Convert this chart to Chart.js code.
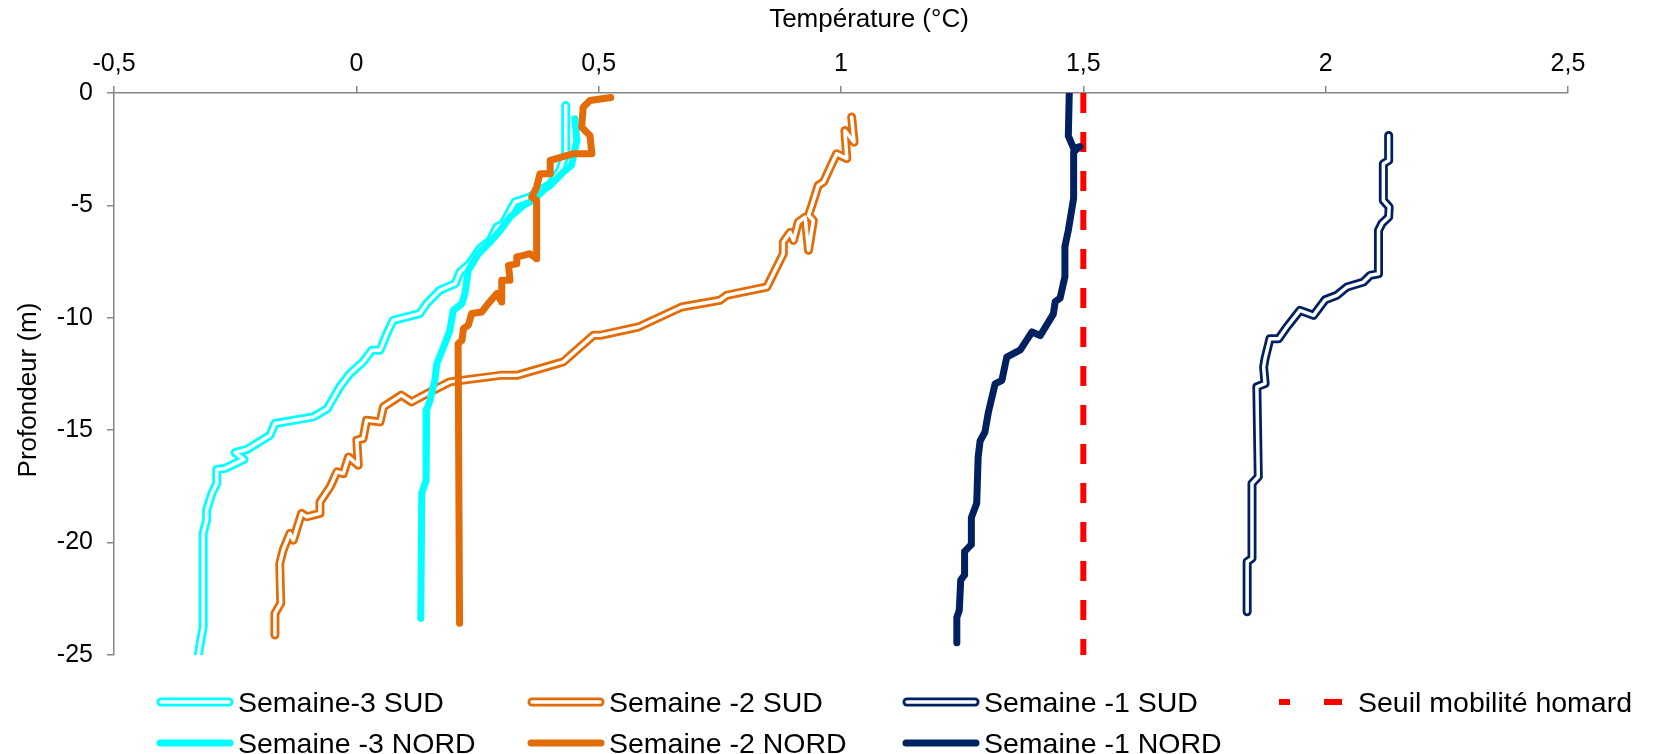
<!DOCTYPE html>
<html lang="fr">
<head>
<meta charset="utf-8">
<title>Profils de température</title>
<script src="https://cdn.jsdelivr.net/npm/chart.js@4.4.1/dist/chart.umd.min.js"></script>
<style>
  body { margin: 0; background: #fff; }
  #wrap { position: relative; width: 1654px; height: 754px; }
  #legende { position: absolute; left: 0; top: 0; width: 1654px; height: 754px; pointer-events: none; }
  .item { position: absolute; display: flex; align-items: center; height: 34px;
          font-family: "Liberation Sans", Arial, sans-serif; font-size: 28.5px; color: #000; white-space: nowrap; }
  .item svg { margin-right: 4px; }
</style>
</head>
<body>
<div id="wrap">
  <canvas id="graf" width="1654" height="754"></canvas>
  <div id="legende"></div>
</div>
<script>
// Données : température (°C) et profondeur (m)
const s3SudTemp = [0.432, 0.432, 0.42, 0.40, 0.379, 0.358, 0.327, 0.303, 0.290, 0.276, 0.255, 0.234, 0.214, 0.204, 0.172, 0.145, 0.131, 0.076, 0.063, 0.049, 0.032, 0.014, -0.013, -0.034, -0.060, -0.089, -0.168, -0.178, -0.225, -0.250, -0.232, -0.271, -0.288, -0.288, -0.298, -0.309, -0.309, -0.316, -0.316, -0.322, -0.326];
const s3SudProf = [-0.56, -2.70, -3.44, -4.06, -4.33, -4.63, -4.85, -5.81, -5.96, -6.56, -6.92, -7.59, -7.96, -8.48, -8.78, -9.37, -9.81, -10.11, -10.70, -11.44, -11.44, -11.96, -12.48, -13.07, -14.05, -14.41, -14.70, -15.22, -15.85, -16.00, -16.30, -16.70, -16.75, -17.37, -17.81, -18.56, -19.00, -19.59, -23.74, -24.48, -25.00];

const s2SudTemp = [1.022, 1.027, 1.008, 1.012, 0.991, 0.978, 0.964, 0.953, 0.940, 0.933, 0.943, 0.933, 0.926, 0.912, 0.902, 0.895, 0.881, 0.881, 0.847, 0.764, 0.750, 0.671, 0.582, 0.503, 0.489, 0.427, 0.331, 0.297, 0.193, 0.159, 0.114, 0.093, 0.056, 0.049, 0.021, 0.014, 0.001, 0.004, -0.016, -0.027, -0.040, -0.054, -0.075, -0.075, -0.102, -0.113, -0.130, -0.137, -0.151, -0.158, -0.156, -0.168, -0.168];
const s2SudProf = [-1.07, -2.19, -1.67, -2.92, -2.70, -3.30, -3.96, -4.11, -5.00, -5.44, -5.67, -7.00, -5.52, -5.74, -6.56, -6.20, -6.63, -7.15, -8.63, -9.00, -9.22, -9.52, -10.41, -10.78, -10.78, -11.96, -12.56, -12.56, -12.85, -13.22, -13.74, -13.44, -13.96, -14.63, -14.56, -15.37, -15.44, -16.56, -16.19, -16.93, -16.85, -17.52, -18.19, -18.70, -18.85, -18.70, -19.89, -19.59, -20.33, -20.93, -22.70, -23.15, -24.11];

const s1SudTemp = [2.130, 2.130, 2.119, 2.119, 2.131, 2.130, 2.116, 2.109, 2.109, 2.092, 2.078, 2.044, 2.023, 1.999, 1.975, 1.947, 1.920, 1.903, 1.885, 1.875, 1.872, 1.875, 1.858, 1.861, 1.848, 1.848, 1.838, 1.838];
const s1SudProf = [-1.89, -3.00, -3.15, -4.78, -5.07, -5.52, -5.81, -6.11, -8.04, -8.11, -8.41, -8.63, -9.00, -9.20, -9.89, -9.67, -10.41, -10.93, -10.93, -11.81, -12.19, -12.93, -13.07, -17.07, -17.37, -20.70, -20.85, -23.08];

const seuilTemp = [1.5, 1.5];
const seuilProf = [0, -25];

const s3NordTemp = [0.451, 0.455, 0.444, 0.427, 0.410, 0.386, 0.365, 0.345, 0.317, 0.297, 0.276, 0.252, 0.231, 0.224, 0.218, 0.200, 0.193, 0.180, 0.166, 0.162, 0.152, 0.145, 0.144, 0.135, 0.133];
const s3NordProf = [-1.15, -2.11, -3.22, -3.52, -3.89, -4.33, -4.78, -5.00, -5.52, -6.11, -6.63, -7.15, -7.89, -8.92, -9.37, -9.67, -10.56, -11.30, -12.04, -12.78, -13.67, -14.11, -17.22, -17.81, -23.37];

const s2NordTemp = [0.525, 0.482, 0.468, 0.465, 0.482, 0.486, 0.448, 0.400, 0.400, 0.379, 0.372, 0.362, 0.372, 0.372, 0.358, 0.331, 0.331, 0.314, 0.317, 0.300, 0.300, 0.290, 0.272, 0.259, 0.238, 0.231, 0.221, 0.218, 0.210, 0.213];
const s2NordProf = [-0.20, -0.33, -0.63, -1.52, -1.89, -2.70, -2.70, -3.00, -3.59, -3.59, -4.19, -4.63, -4.78, -7.37, -7.15, -7.30, -7.60, -7.67, -8.33, -8.33, -9.30, -8.92, -9.37, -9.74, -9.81, -10.33, -10.48, -11.00, -11.15, -23.59];

const s1NordTemp = [1.471, 1.469, 1.480, 1.493, 1.480, 1.480, 1.469, 1.462, 1.462, 1.452, 1.442, 1.438, 1.411, 1.394, 1.370, 1.342, 1.332, 1.318, 1.304, 1.297, 1.287, 1.283, 1.280, 1.269, 1.269, 1.255, 1.255, 1.247, 1.244, 1.239, 1.239];
const s1NordProf = [0, -1.91, -2.46, -2.38, -2.62, -4.68, -6.11, -6.83, -8.17, -9.13, -9.28, -9.84, -10.79, -10.63, -11.43, -11.75, -12.78, -12.94, -14.21, -15.08, -15.48, -16.19, -18.25, -18.89, -20.08, -20.40, -21.43, -21.67, -23.02, -23.33, -24.45];

const xTicks = [-0.5, 0, 0.5, 1, 1.5, 2, 2.5];
const yTicks = [-25, -20, -15, -10, -5, 0];

const cyan = '#00FFFF';
const orange = '#E36C09';
const marine = '#002060';
const rouge = '#FF0000';
const police = '"Liberation Sans", Arial, sans-serif';

function pts(temp, prof) {
  return temp.map((t, i) => ({ x: t, y: prof[i] }));
}

// Trait double (SUD) : trait épais coloré + trait blanc fin par dessus
function trait(label, data, couleur, largeur, ordre, extra) {
  return Object.assign({
    label: label,
    data: data,
    showLine: true,
    borderColor: couleur,
    backgroundColor: couleur,
    borderWidth: largeur,
    pointRadius: 0,
    pointHoverRadius: 0,
    tension: 0,
    borderJoinStyle: 'round',
    borderCapStyle: 'round',
    fill: false,
    order: ordre
  }, extra || {});
}

const datasets = [
  trait('Semaine-3 SUD', pts(s3SudTemp, s3SudProf), cyan, 9, 12),
  trait('', pts(s3SudTemp, s3SudProf), '#FFFFFF', 3.5, 11),
  trait('Semaine -2 SUD', pts(s2SudTemp, s2SudProf), orange, 9, 10),
  trait('', pts(s2SudTemp, s2SudProf), '#FFFFFF', 3.5, 9),
  trait('Semaine -1 SUD', pts(s1SudTemp, s1SudProf), marine, 9, 8),
  trait('', pts(s1SudTemp, s1SudProf), '#FFFFFF', 3.5, 7),
  trait('Seuil mobilité homard', pts(seuilTemp, seuilProf), rouge, 6, 6, { borderDash: [20, 19], borderCapStyle: 'butt' }),
  trait('Semaine -3 NORD', pts(s3NordTemp, s3NordProf), cyan, 7, 5),
  trait('Semaine -2 NORD', pts(s2NordTemp, s2NordProf), orange, 7, 4),
  trait('Semaine -1 NORD', pts(s1NordTemp, s1NordProf), marine, 7, 3)
];

// Titres des axes
const titresAxes = {
  id: 'titresAxes',
  afterDraw(chart) {
    const ctx = chart.ctx;
    ctx.save();
    ctx.fillStyle = '#000';
    ctx.font = '26px ' + police;
    ctx.textAlign = 'center';
    ctx.textBaseline = 'middle';
    ctx.fillText('Température (°C)', 869, 20);
    ctx.translate(29, 390);
    ctx.rotate(-Math.PI / 2);
    ctx.fillText('Profondeur (m)', 0, 0);
    ctx.restore();
  }
};

const ctx = document.getElementById('graf').getContext('2d');
const myChart = new Chart(ctx, {
  type: 'scatter',
  data: { datasets: datasets },
  options: {
    responsive: false,
    animation: false,
    events: [],
    layout: { padding: { left: 0, top: 0, right: 86, bottom: 99 } },
    scales: {
      x: {
        type: 'linear',
        position: 'top',
        min: -0.5,
        max: 2.5,
        afterBuildTicks: s => { s.ticks = xTicks.map(v => ({ value: v })); },
        afterFit: s => { s.height = 93; },
        ticks: {
          color: '#000',
          font: { family: police, size: 25 },
          padding: 7,
          callback: v => String(v).replace('.', ',')
        },
        grid: { drawOnChartArea: false, drawTicks: true, tickLength: 7, color: '#868686', lineWidth: 1.5 },
        border: { color: '#868686', width: 1.5 }
      },
      y: {
        type: 'linear',
        min: -25,
        max: 0,
        afterBuildTicks: s => { s.ticks = yTicks.map(v => ({ value: v })); },
        afterFit: s => { s.width = 114; },
        ticks: {
          color: '#000',
          font: { family: police, size: 25 },
          padding: 14,
          callback: v => String(v)
        },
        grid: { drawOnChartArea: false, drawTicks: true, tickLength: 7, color: '#868686', lineWidth: 1.5 },
        border: { color: '#868686', width: 1.5 }
      }
    },
    plugins: {
      legend: { display: false },
      tooltip: { enabled: false },
      title: { display: false }
    }
  },
  plugins: [titresAxes]
});

// Légende en deux lignes, colonnes alignées comme dans Excel
const legende = document.getElementById('legende');
const colonnes = [156, 527, 902, 1276];
const lignes = [702, 743];
const entrees = [
  { label: 'Semaine-3 SUD', couleur: cyan, type: 'double', col: 0, lig: 0 },
  { label: 'Semaine -2 SUD', couleur: orange, type: 'double', col: 1, lig: 0 },
  { label: 'Semaine -1 SUD', couleur: marine, type: 'double', col: 2, lig: 0 },
  { label: 'Seuil mobilité homard', couleur: rouge, type: 'tirets', col: 3, lig: 0 },
  { label: 'Semaine -3 NORD', couleur: cyan, type: 'plein', col: 0, lig: 1 },
  { label: 'Semaine -2 NORD', couleur: orange, type: 'plein', col: 1, lig: 1 },
  { label: 'Semaine -1 NORD', couleur: marine, type: 'plein', col: 2, lig: 1 }
];

entrees.forEach(e => {
  const div = document.createElement('div');
  div.className = 'item';
  div.style.left = colonnes[e.col] + 'px';
  div.style.top = (lignes[e.lig] - 17) + 'px';
  let svg = '<svg width="78" height="16" viewBox="0 0 78 16">';
  if (e.type === 'double') {
    svg += '<line x1="5" y1="8" x2="73" y2="8" stroke="' + e.couleur + '" stroke-width="9" stroke-linecap="round"/>';
    svg += '<line x1="5" y1="8" x2="73" y2="8" stroke="#fff" stroke-width="3.5" stroke-linecap="round"/>';
  } else if (e.type === 'tirets') {
    svg += '<line x1="3" y1="8" x2="14" y2="8" stroke="' + e.couleur + '" stroke-width="6"/>';
    svg += '<line x1="48" y1="8" x2="66" y2="8" stroke="' + e.couleur + '" stroke-width="6"/>';
  } else {
    svg += '<line x1="4" y1="8" x2="74" y2="8" stroke="' + e.couleur + '" stroke-width="7" stroke-linecap="round"/>';
  }
  svg += '</svg>';
  div.innerHTML = svg + '<span>' + e.label + '</span>';
  legende.appendChild(div);
});
</script>
</body>
</html>
